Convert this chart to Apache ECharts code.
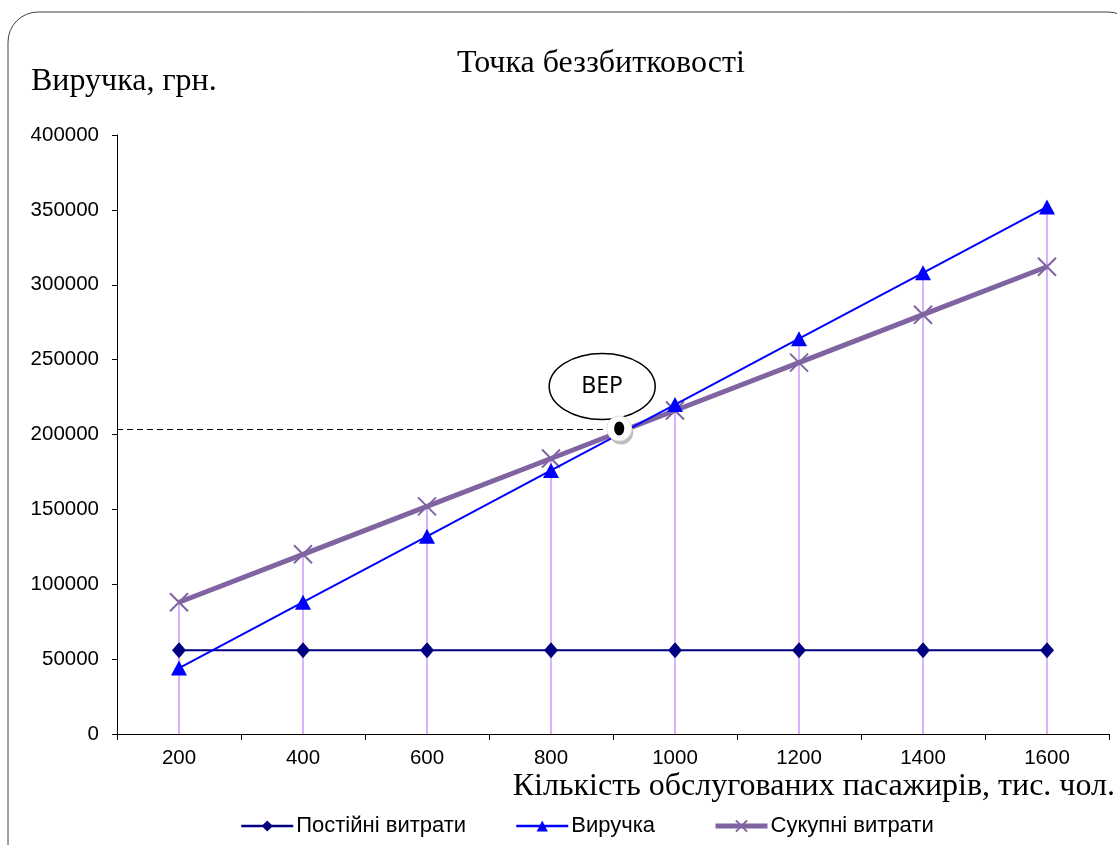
<!DOCTYPE html>
<html>
<head>
<meta charset="utf-8">
<script src="https://cdn.jsdelivr.net/npm/echarts@6/dist/echarts.min.js"></script>
<style>html,body{margin:0;padding:0;background:#fff;}#c{width:1117px;height:845px;}</style>
</head>
<body>
<div id="c"></div>
<script>
const categories = ['200', '400', '600', '800', '1000', '1200', '1400', '1600'];
const fixedCosts = [56000, 56000, 56000, 56000, 56000, 56000, 56000, 56000];
const revenue = [44000, 88000, 132000, 176000, 220000, 264000, 308000, 352000];
const totalCosts = [88000, 120000, 152000, 184000, 216000, 248000, 280000, 312000];
const seriesNames = ['Постійні витрати', 'Виручка', 'Сукупні витрати'];
const bepPoint = [910, 204000]; // thousand passengers, UAH
const bepLabel = 'BEP';
const titleText = 'Точка беззбитковості';
const yName = 'Виручка, грн.';
const xName = 'Кількість обслугованих пасажирів, тис. чол.';

const dropValues = categories.map((c, i) => Math.max(fixedCosts[i], revenue[i], totalCosts[i]));

const serif = 'Liberation Serif';
const sans = 'Liberation Sans';
const chart = echarts.init(document.getElementById('c'), null, {renderer: 'canvas'});

const crossPath = 'path://M0,0L10,10M10,0L0,10';
const colors = ['#000080', '#0000ff', '#8064a2'];
const legendLeft = [240, 515, 713];
const legendLineWidth = [2.5, 2.5, 5];

chart.setOption({
  animation: false,
  backgroundColor: '#fff',
  title: [
    {text: titleText, left: 457, top: 48, padding: 0, textStyle: {fontFamily: serif, fontSize: 32, fontWeight: 'normal', color: '#000'}},
    {text: yName, left: 31, top: 66, padding: 0, textStyle: {fontFamily: serif, fontSize: 32, fontWeight: 'normal', color: '#000'}},
    {text: xName, right: 2, top: 771, padding: 0, textStyle: {fontFamily: serif, fontSize: 32, fontWeight: 'normal', color: '#000'}}
  ],
  legend: seriesNames.map((n, i) => ({
    data: [{name: n, lineStyle: {width: legendLineWidth[i]}}],
    left: legendLeft[i], top: 815,
    itemWidth: 52, itemHeight: 14, itemGap: 0,
    textStyle: {fontFamily: sans, fontSize: 22, color: '#000', padding: [0, 0, 0, -2]},
    padding: 0
  })),
  grid: {left: 117, right: 8, top: 135, bottom: 111, containLabel: false},
  xAxis: {
    type: 'category', data: categories, boundaryGap: true,
    axisLine: {lineStyle: {color: '#000', width: 1}},
    axisTick: {show: true, length: 6, lineStyle: {color: '#000'}},
    axisLabel: {fontFamily: sans, fontSize: 20.5, color: '#000', margin: 14},
    splitLine: {show: false}
  },
  yAxis: {
    type: 'value', min: 0, max: 400000, interval: 50000,
    axisLine: {show: true, lineStyle: {color: '#000', width: 1}},
    axisTick: {show: true, length: 5, lineStyle: {color: '#000'}},
    axisLabel: {fontFamily: sans, fontSize: 20.5, color: '#000', margin: 18, formatter: v => String(v)},
    splitLine: {show: false}
  },
  series: [
    {
      name: 'drop', type: 'bar', data: dropValues, barWidth: 1.5, silent: true,
      itemStyle: {color: '#cc99ff'}, z: 1
    },
    {
      name: seriesNames[0], type: 'line', data: fixedCosts,
      symbol: 'diamond', symbolSize: [14, 16],
      lineStyle: {color: colors[0], width: 2},
      itemStyle: {color: colors[0]}, z: 3
    },
    {
      name: seriesNames[1], type: 'line', data: revenue,
      symbol: 'triangle', symbolSize: [16, 15],
      lineStyle: {color: colors[1], width: 2},
      itemStyle: {color: colors[1]}, z: 4
    },
    {
      name: seriesNames[2], type: 'line', data: totalCosts,
      symbol: crossPath, symbolSize: 18,
      lineStyle: {color: colors[2], width: 5},
      itemStyle: {color: 'rgba(0,0,0,0)', borderColor: colors[2], borderWidth: 2}, z: 2
    }
  ]
});

function drawBep() {
  const p3 = chart.convertToPixel({xAxisIndex: 0}, 3);
  const p4 = chart.convertToPixel({xAxisIndex: 0}, 4);
  const frac = (bepPoint[0] - Number(categories[3])) / (Number(categories[4]) - Number(categories[3]));
  const px = p3 + frac * (p4 - p3);
  const py = chart.convertToPixel({yAxisIndex: 0}, bepPoint[1]);
  const x0 = chart.convertToPixel({xAxisIndex: 0}, 0) - (p4 - p3) / 2;
  chart.setOption({
    graphic: [
      {type: 'rect', shape: {x: 8, y: 12, width: 1130, height: 900, r: 30}, style: {fill: 'none', stroke: '#404040', lineWidth: 1}, silent: true, z: 0},
      {type: 'line', shape: {x1: x0, y1: py + 1, x2: px - 14, y2: py + 1}, style: {stroke: '#000', lineWidth: 1, lineDash: [6, 4]}, z: 10},
      {type: 'ellipse', shape: {cx: px - 17, cy: py - 42, rx: 53, ry: 33}, style: {fill: '#fff', stroke: '#000', lineWidth: 1.5}, z: 10},
      {type: 'text', style: {x: px - 17, y: py - 42, text: bepLabel, fontFamily: 'Noto Sans', fontSize: 23, fill: '#000', align: 'center', verticalAlign: 'middle'}, z: 11},
      {type: 'circle', shape: {cx: px + 2, cy: py + 4, r: 12}, style: {fill: '#bdbdbd'}, z: 12},
      {type: 'circle', shape: {cx: px, cy: py, r: 12.5}, style: {fill: '#fff', stroke: '#e0e0e0', lineWidth: 1}, z: 13},
      {type: 'ellipse', shape: {cx: px, cy: py, rx: 5, ry: 7}, style: {fill: '#000'}, z: 14}
    ]
  });
}
drawBep();
</script>
</body>
</html>
